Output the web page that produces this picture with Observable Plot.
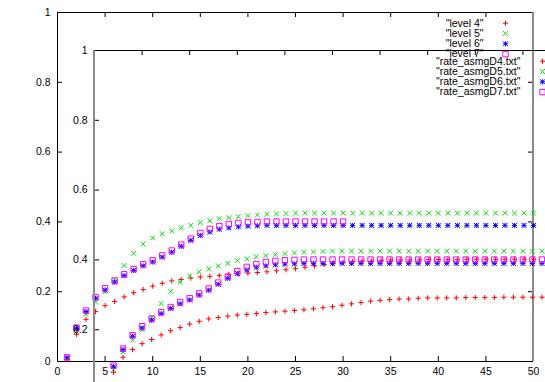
<!DOCTYPE html>
<html><head><meta charset="utf-8">
<script src="https://cdn.jsdelivr.net/npm/d3@7"></script>
<script src="https://cdn.jsdelivr.net/npm/@observablehq/plot@0.6"></script>
<style>
body{margin:0;background:#fff}
#chart{position:relative;width:545px;height:382px;overflow:hidden;background:#fff}
#chart svg{position:absolute;left:0;top:0}
</style>
</head><body><div id="chart"></div>
<script>
// ---- data ----
const steps = [1,2,3,4,5,6,7,8,9,10,11,12,13,14,15,16,17,18,19,20,21,22,23,24,25,26,27,28,29,30,31,32,33,34,35,36,37,38,39,40,41,42,43,44,45,46,47,48,49,50];
const level4 = [0.005,0.078,0.121,0.143,0.160,0.172,0.185,0.197,0.206,0.216,0.224,0.231,0.235,0.239,0.242,0.244,0.246,0.249,0.251,0.253,0.255,0.257,0.260,0.263,0.266,0.270,0.274,0.278,0.282,0.284,0.286,0.288,0.288,0.290,0.291,0.291,0.291,0.291,0.292,0.292,0.292,0.292,0.293,0.293,0.293,0.293,0.293,0.293,0.293,0.293];
const level5 = [0.010,0.086,0.136,0.170,0.200,0.236,0.275,0.310,0.337,0.354,0.366,0.374,0.383,0.390,0.398,0.403,0.409,0.412,0.415,0.418,0.420,0.422,0.423,0.424,0.425,0.425,0.425,0.425,0.425,0.425,0.425,0.425,0.425,0.425,0.425,0.425,0.425,0.425,0.425,0.425,0.425,0.425,0.425,0.425,0.425,0.425,0.425,0.425,0.425,0.425];
const level6 = [0.011,0.094,0.143,0.181,0.205,0.227,0.246,0.261,0.274,0.285,0.299,0.313,0.330,0.347,0.361,0.371,0.379,0.383,0.386,0.388,0.389,0.390,0.390,0.390,0.390,0.390,0.390,0.390,0.390,0.390,0.390,0.390,0.390,0.390,0.390,0.390,0.390,0.390,0.390,0.390,0.390,0.390,0.390,0.390,0.390,0.390,0.390,0.390,0.390,0.390];
const level7 = [0.012,0.097,0.146,0.184,0.210,0.232,0.250,0.265,0.279,0.290,0.304,0.318,0.335,0.352,0.368,0.380,0.388,0.394,0.397,0.399,0.400,0.401,0.401,0.401,0.401,0.401,0.401,0.401,0.401,0.401];
const asmgD4 = level4;
const asmgD5 = level5;
const asmgD6 = level6;
const asmgD7 = level7.concat([0.401,0.401,0.401,0.401,0.401,0.401,0.401,0.401,0.401,0.401,0.401,0.401,0.401,0.401,0.401,0.401,0.401,0.401,0.401,0.401]);
const outerNames = ['"level 4"','"level 5"','"level 6"','"level 7"'];
const innerNames = ['"rate_asmgD4.txt"','"rate_asmgD5.txt"','"rate_asmgD6.txt"','"rate_asmgD7.txt"'];
const xTicks = [0,5,10,15,20,25,30,35,40,45,50];
const yTicks = [0,0.2,0.4,0.6,0.8,1];

// ---- styles ----
const colors = ["#ff0000","#00e000","#0000ff","#ff00ff"];
const FONT = "font-family:'Liberation Sans',Arial,sans-serif;font-size:10.5px;";
const plusSym = {draw(c,s){const r=Math.sqrt(s/Math.PI);c.moveTo(-r,0);c.lineTo(r,0);c.moveTo(0,-r);c.lineTo(0,r);}};
const timesSym = {draw(c,s){const r=Math.sqrt(s/Math.PI);c.moveTo(-r,-r);c.lineTo(r,r);c.moveTo(-r,r);c.lineTo(r,-r);}};
const starSym = {draw(c,s){plusSym.draw(c,s);timesSym.draw(c,s);}};
const squareSym = {draw(c,s){const r=Math.sqrt(s/Math.PI);c.rect(-r,-r,2*r,2*r);}};
const syms = [plusSym,timesSym,starSym,squareSym];
const sizes = [2.6,2.4,2.5,2.7];

function rows(vals){ return vals.map((v,i)=>({x: steps[i], y: v})); }

// inner plot: its bottom axis labels and the y label "0" fall outside the window, so they are not drawn
function frameMarks(inner){
  const marks = [
    Plot.ruleY([0], {stroke:"#000"}),
    Plot.ruleY([1], {stroke:"#000"}),
    Plot.ruleX([0], {stroke:"#000"}),
    Plot.ruleX([50], {stroke:"#000"}),
    Plot.ruleX(xTicks, {x:d=>d, y1:0, y2:0, insetTop:-5, stroke:"#000"}),
    Plot.ruleX(xTicks, {x:d=>d, y1:1, y2:1, insetBottom:-5, stroke:"#000"}),
    Plot.ruleY(yTicks, {y:d=>d, x1:0, x2:0, insetRight:-5, stroke:"#000"}),
    Plot.ruleY(yTicks, {y:d=>d, x1:50, x2:50, insetLeft:-5, stroke:"#000"}),
    Plot.axisY({ticks: inner ? yTicks.filter(v=>v>0) : yTicks, tickSize:0, tickPadding:7, label:null, tickFormat:d=>String(d)})
  ];
  if (!inner) marks.push(Plot.axisX({ticks: xTicks, tickSize:0, tickPadding:6, label:null, tickFormat:d=>String(d)}));
  return marks;
}

function dataMarks(series, names){
  const marks = [];
  series.forEach((vals,i)=>{
    marks.push(Plot.dot(rows(vals), {x:"x", y:"y", symbol: syms[i], r: sizes[i], stroke: colors[i], fill:"none", strokeWidth:1}));
  });
  names.forEach((name,i)=>{
    const dy = 10.7 + i*10.3;
    marks.push(Plot.text([name], {text:d=>d, frameAnchor:"top-right", dx:-50, dy, textAnchor:"end", lineAnchor:"middle", fill:"#000"}));
    marks.push(Plot.dot([0], {frameAnchor:"top-right", dx:-28, dy, symbol: syms[i], r: sizes[i], stroke: colors[i], fill:"none", strokeWidth:1}));
  });
  return marks;
}

const outer = Plot.plot({
  width: 545, height: 382,
  marginLeft: 57, marginRight: 12, marginTop: 12, marginBottom: 21,
  x: {domain: [0,50]},
  y: {domain: [0,1]},
  style: FONT + "background:#fff;max-width:none;overflow:visible;",
  marks: [
    ...frameMarks(false),
    Plot.ruleX([50], {stroke:"#8a8a8a", strokeWidth:2, dx:-0.5}),
    ...dataMarks([level4,level5,level6,level7], outerNames)
  ]
});

const inner = Plot.plot({
  width: 582, height: 420,
  marginLeft: 94, marginRight: 12, marginTop: 50, marginBottom: 21,
  x: {domain: [0,50], axis: null},
  y: {domain: [0,1]},
  style: FONT + "background:transparent;max-width:none;overflow:visible;",
  marks: [
    ...frameMarks(true),
    Plot.ruleX([0], {stroke:"#8a8a8a", strokeWidth:2, dx:-0.5}),
    ...dataMarks([asmgD4,asmgD5,asmgD6,asmgD7], innerNames)
  ]
});

const chart = document.getElementById("chart");
chart.appendChild(outer);
chart.appendChild(inner);
</script>
</body></html>
